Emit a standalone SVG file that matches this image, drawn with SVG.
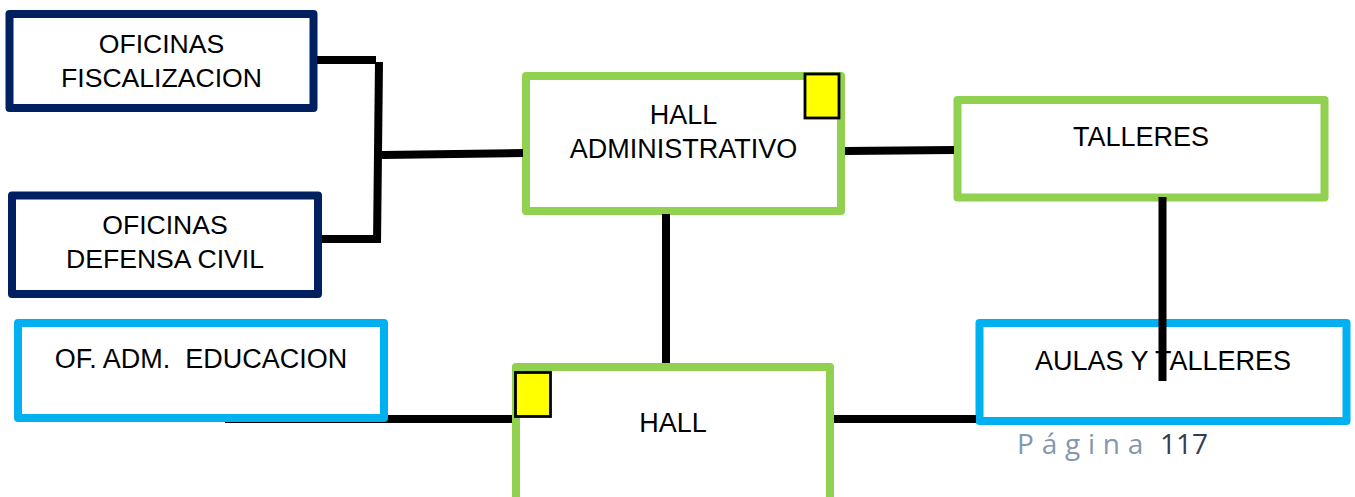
<svg xmlns="http://www.w3.org/2000/svg" width="1355" height="497" viewBox="0 0 1355 497">
<style>
.box{fill:#fff;stroke-width:8;stroke-linejoin:round}
.navy{stroke:#002060}.green{stroke:#92D050}.sky{stroke:#00B0F0}
.flag{fill:#FFFF00;stroke:#000;stroke-width:2.8}
.line{stroke:#000;stroke-width:8;fill:none}
text{font-family:"Liberation Sans",Arial,sans-serif;font-size:27px;fill:#000;text-anchor:middle}
.sm{font-size:26.600px}
.pg{font-family:"Open Sans","Noto Sans",sans-serif;font-size:28px;text-anchor:start}
</style>
<rect width="1355" height="497" fill="#fff"/>
<g id="connector-back"><line class="line" x1="225" y1="419" x2="513" y2="419"/></g>
<g id="oficinas-fiscalizacion"><rect class="box navy" x="9.500" y="14" width="304" height="94"/><text class="sm" x="161.500" y="53">OFICINAS</text><text class="sm" x="161.500" y="87">FISCALIZACION</text></g>
<g id="oficinas-defensa"><rect class="box navy" x="12" y="195.500" width="306" height="98.500"/><text class="sm" x="165" y="234">OFICINAS</text><text class="sm" x="165" y="268">DEFENSA CIVIL</text></g>
<g id="of-adm-educacion"><rect class="box sky" x="18" y="323" width="366" height="95"/><text x="201" y="368" xml:space="preserve">OF. ADM.  EDUCACION</text></g>
<g id="hall-administrativo"><rect class="box green" x="526" y="76" width="315" height="135"/><text x="683.500" y="124">HALL</text><text x="683.500" y="158">ADMINISTRATIVO</text><rect class="flag" x="805" y="74" width="34" height="44"/></g>
<g id="talleres"><rect class="box green" x="957.500" y="100" width="367" height="97.500"/><text x="1141" y="146">TALLERES</text></g>
<g id="aulas-talleres"><rect class="box sky" x="979.500" y="323" width="367" height="98"/><text x="1163" y="370">AULAS Y TALLERES</text></g>
<g id="hall"><rect class="box green" x="516" y="367" width="314" height="140"/><text x="673" y="432">HALL</text><rect class="flag" x="515.500" y="372.500" width="35" height="44"/></g>
<g id="connectors">
<line class="line" x1="317" y1="60" x2="376" y2="60"/>
<line class="line" x1="379" y1="62" x2="377" y2="243"/>
<line class="line" x1="322" y1="239" x2="377" y2="239"/>
<line class="line" x1="382" y1="155" x2="523" y2="153"/>
<line class="line" x1="845" y1="151" x2="954" y2="150"/>
<line class="line" x1="666" y1="214" x2="666" y2="363"/>
<line class="line" x1="834" y1="419" x2="976" y2="419"/>
<line class="line" x1="1162.500" y1="197" x2="1162.500" y2="381"/>
</g>
<g id="page"><text class="pg" x="1017" y="454" style="fill:#8497B0;letter-spacing:7.800px">Página</text><text class="pg" x="1160" y="454" style="fill:#323E4F">117</text></g>
</svg>
